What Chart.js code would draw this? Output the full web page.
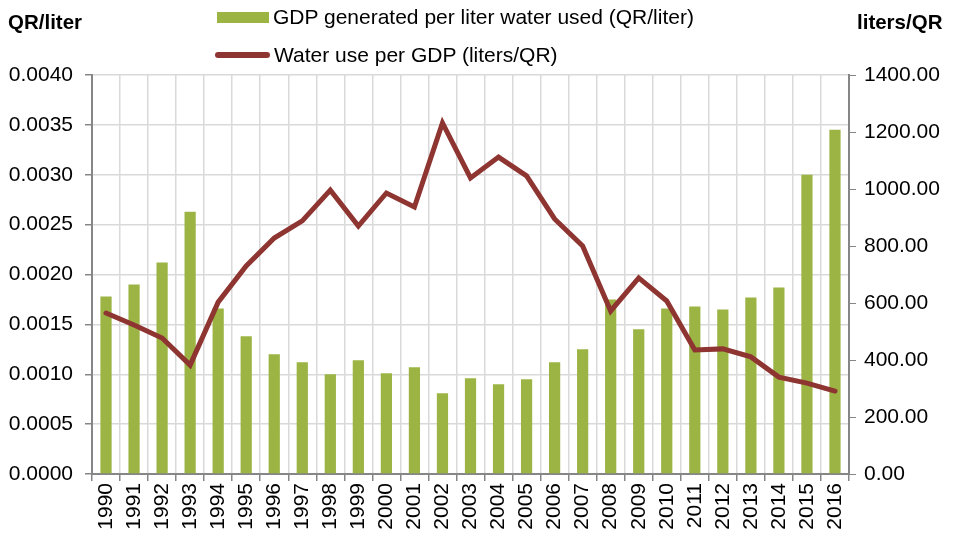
<!DOCTYPE html>
<html>
<head>
<meta charset="utf-8">
<script src="https://cdn.jsdelivr.net/npm/chart.js@4"></script>
<style>
  body { margin: 0; background: #fff; font-family: "Liberation Sans", Arial, sans-serif; }
  #wrap { position: relative; width: 953px; height: 535px; }
  .ttl { position: absolute; top: 10px; font-weight: bold; font-size: 20.5px; color: #000; }
  .leg { position: absolute; left: 215px; font-size: 21px; color: #000; display: flex; align-items: center; }
  .sw { display: inline-block; margin-right: 4px; }
</style>
</head>
<body>
<div id="wrap">
  <canvas id="myCanvas" width="953" height="535"></canvas>
  <div class="ttl" style="left:8px">QR/liter</div>
  <div class="ttl" style="left:857px">liters/QR</div>
  <div class="leg" style="top:5px"><span class="sw" style="width:52px;height:11px;background:#9bb443;margin-left:2px"></span>GDP generated per liter water used (QR/liter)</div>
  <div class="leg" style="top:43px"><span class="sw" style="width:55px;height:6px;border-radius:3px;background:#8e3532"></span>Water use per GDP (liters/QR)</div>
</div>
<script>
// years on the x axis
const years = ['1990','1991','1992','1993','1994','1995','1996','1997','1998','1999',
  '2000','2001','2002','2003','2004','2005','2006','2007','2008','2009',
  '2010','2011','2012','2013','2014','2015','2016'];

// QR per liter (left axis, bars)
const gdpPerLiter = [0.00178, 0.00190, 0.00212, 0.00263, 0.00166, 0.00138, 0.00120, 0.00112, 0.00100, 0.00114,
  0.00101, 0.00107, 0.00081, 0.00096, 0.00090, 0.00095, 0.00112, 0.00125, 0.00175, 0.00145,
  0.00166, 0.00168, 0.00165, 0.00177, 0.00187, 0.00300, 0.00345];

// liters per QR (right axis, line)
const waterPerGdp = [565, 523, 477, 382, 603, 730, 828, 888, 996, 870,
  986, 937, 1232, 1039, 1112, 1046, 895, 800, 572, 688,
  607, 435, 439, 411, 340, 319, 291];

const fnt = { family: 'Liberation Sans, Arial, sans-serif', size: 21 };
const axisGray = '#868686';
const gridGray = '#d9d9d9';

new Chart(document.getElementById('myCanvas'), {
  data: {
    labels: years,
    datasets: [
      {
        type: 'line',
        label: 'Water use per GDP (liters/QR)',
        data: waterPerGdp,
        yAxisID: 'y2',
        borderColor: '#8e3532',
        borderWidth: 5,
        pointRadius: 0,
        tension: 0,
        borderCapStyle: 'round',
        borderJoinStyle: 'miter'
      },
      {
        type: 'bar',
        label: 'GDP generated per liter water used (QR/liter)',
        data: gdpPerLiter,
        yAxisID: 'y',
        backgroundColor: '#9bb443',
        barPercentage: 0.4,
        categoryPercentage: 1.0
      }
    ]
  },
  options: {
    responsive: false,
    animation: false,
    layout: { padding: { top: 75, left: 0, right: 0, bottom: 0 } },
    plugins: { legend: { display: false }, tooltip: { enabled: false } },
    scales: {
      x: {
        offset: true,
        grid: { offset: true, color: gridGray, lineWidth: 1.5, tickColor: axisGray, tickLength: 7 },
        border: { color: axisGray, width: 2 },
        ticks: { color: '#000', font: fnt, minRotation: 90, maxRotation: 90, autoSkip: false, padding: 2 },
        afterFit(s) { s.height = 61; }
      },
      y: {
        position: 'left',
        min: 0, max: 0.004,
        grid: { color: gridGray, lineWidth: 1.5, tickColor: axisGray, tickLength: 7 },
        border: { color: axisGray, width: 2 },
        ticks: { stepSize: 0.0005, color: '#000', font: fnt, padding: 12, callback: v => v.toFixed(4) },
        afterFit(s) { s.width = 92; }
      },
      y2: {
        position: 'right',
        min: 0, max: 1400,
        grid: { drawOnChartArea: false, tickColor: axisGray, tickLength: 7 },
        border: { color: axisGray, width: 2 },
        ticks: { stepSize: 200, color: '#000', font: fnt, padding: 8, callback: v => v.toFixed(2) },
        afterFit(s) { s.width = 104; }
      }
    }
  }
});
</script>
</body>
</html>
